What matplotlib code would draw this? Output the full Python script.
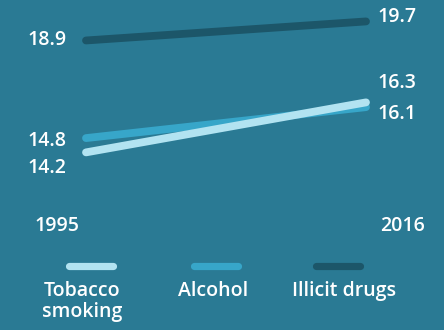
import matplotlib
matplotlib.use("Agg")
import matplotlib.pyplot as plt
from matplotlib.lines import Line2D

years = [1995, 2016]
series_names = ["Tobacco\nsmoking", "Alcohol", "Illicit drugs"]
tobacco = [14.2, 16.3]
alcohol = [14.8, 16.1]
illicit = [18.9, 19.7]
colors = ["#b2e3f1", "#37a6c9", "#1c5669"]
bg = "#2a7a94"

plt.rcParams["font.family"] = ["Open Sans", "DejaVu Sans"]

fig = plt.figure(figsize=(4.44, 3.30), dpi=100, facecolor=bg)
W, H = 444, 330

# axes spanning the line area (pixels 86..366 horizontally, 0..200 vertically)
ax = fig.add_axes([86 / W, 130 / H, 280 / W, 200 / H])
ax.set_facecolor(bg)
ax.set_xlim(years[0], years[1])
ax.set_ylim(12.2, 20.6)
ax.axis("off")

# draw order: illicit, alcohol, tobacco on top
for vals, c in [(illicit, colors[2]), (alcohol, colors[1]), (tobacco, colors[0])]:
    ax.plot(years, vals, color=c, lw=5.6, solid_capstyle="round", clip_on=False)

txt = dict(color="white", fontsize=14, fontweight="semibold", va="center")
# value labels, nudged so they don't collide
left_off = {"t": -11, "a": -2, "i": 0}
right_off = {"t": 14, "a": -5, "i": 3}
for key, vals in [("t", tobacco), ("a", alcohol), ("i", illicit)]:
    ax.annotate(f"{vals[0]:.1f}", (years[0], vals[0]), xytext=(-14, left_off[key]),
                textcoords="offset points", ha="right", **txt)
    ax.annotate(f"{vals[1]:.1f}", (years[1], vals[1]), xytext=(8, right_off[key]),
                textcoords="offset points", ha="left", **txt)

fig.text(57 / W, 1 - 226 / H, str(years[0]), ha="center", **txt)
fig.text(402 / W, 1 - 226 / H, str(years[1]), ha="center", **txt)

# legend: swatch above centered label
sw_centers = [91, 216, 338]
text_centers = [82, 213, 344]
for name, c, sx, tx in zip(series_names, colors, sw_centers, text_centers):
    fig.add_artist(Line2D([(sx - 22) / W, (sx + 22) / W], [1 - 265.5 / H] * 2,
                          color=c, lw=5.2, solid_capstyle="round",
                          transform=fig.transFigure))
    fig.text(tx / W, 1 - 281 / H, name, color="white", fontsize=14,
             fontweight="semibold", ha="center", va="top", linespacing=1.1)

fig.savefig("out.png", dpi=100, facecolor=bg)
